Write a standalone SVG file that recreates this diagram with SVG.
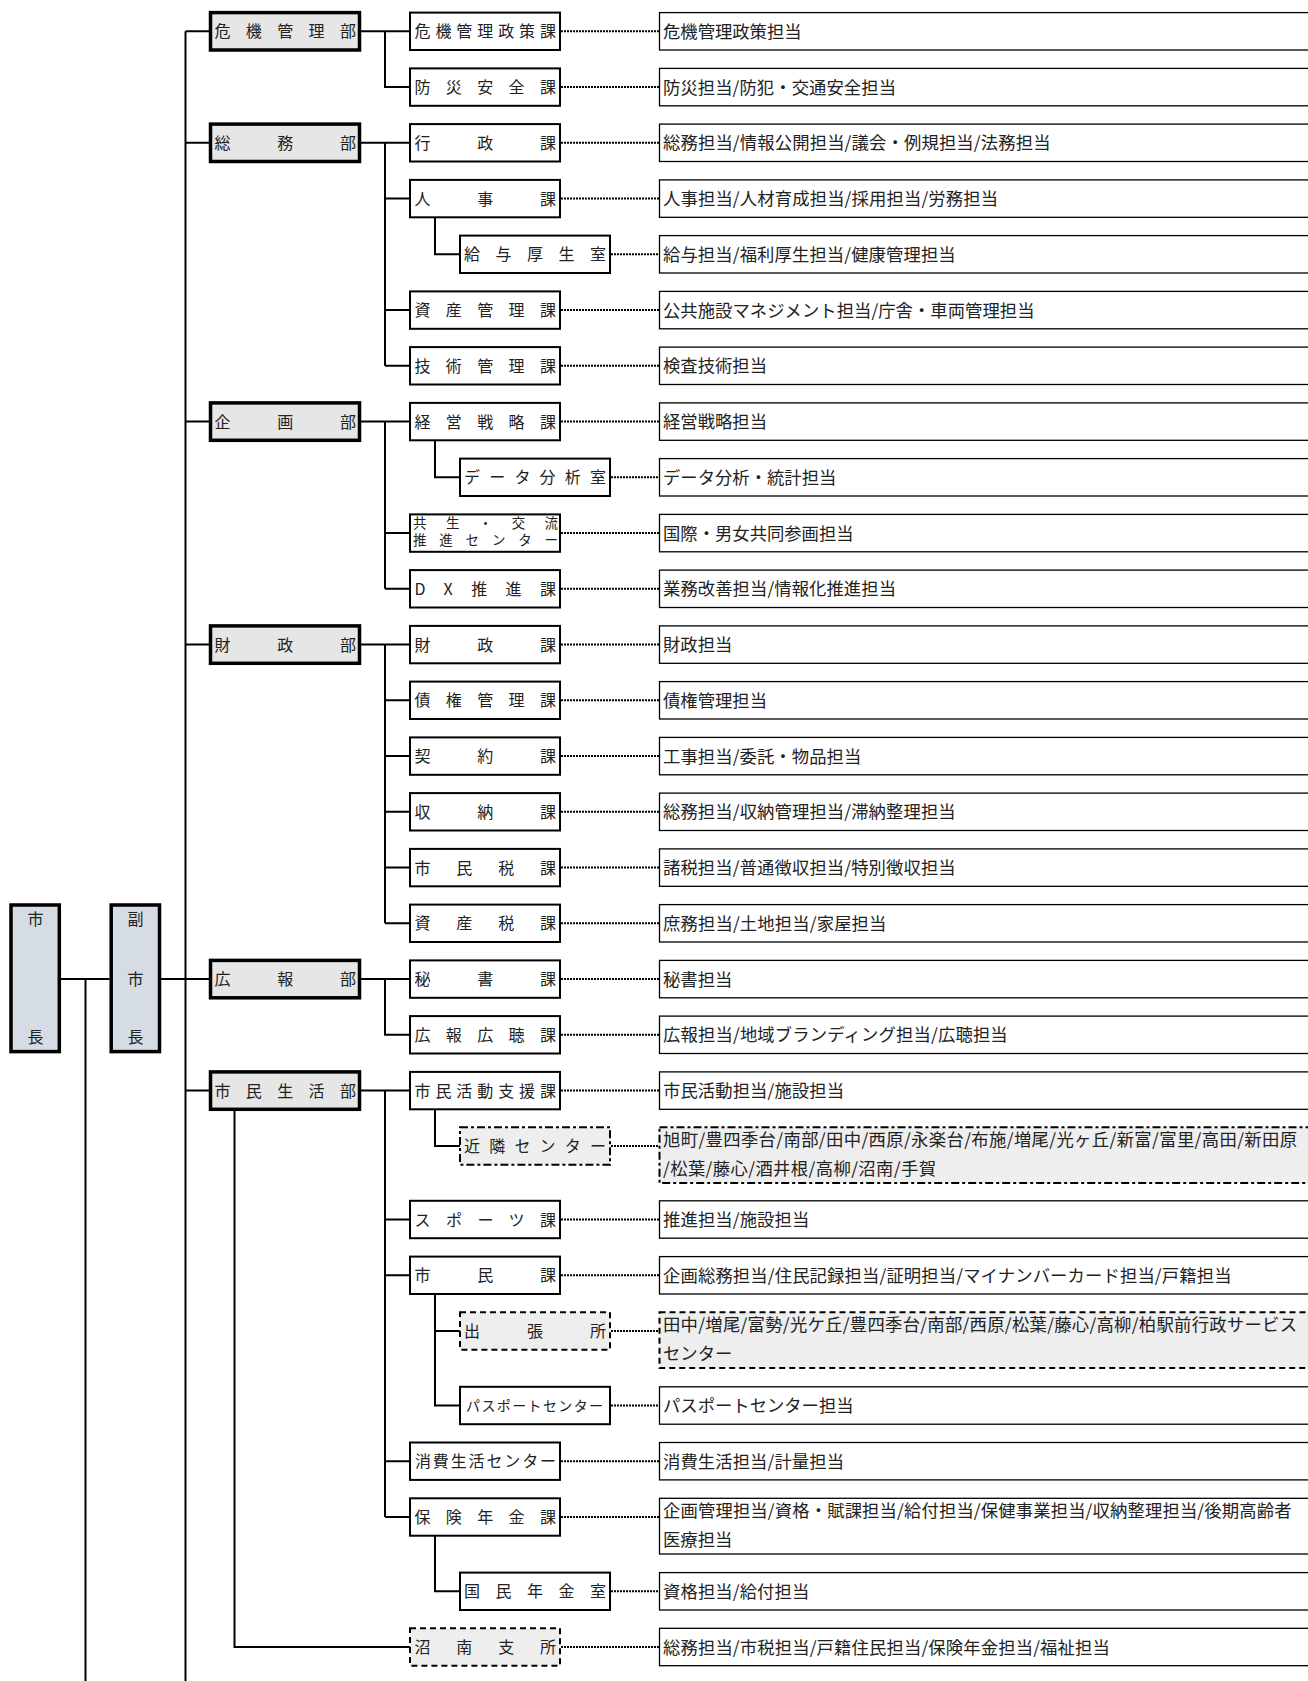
<svg xmlns="http://www.w3.org/2000/svg" width="1308" height="1681" viewBox="0 0 1308 1681">
<style>
.ln{fill:none;stroke:#000;stroke-width:2}
.dt{fill:none;stroke:#000;stroke-width:2;stroke-dasharray:2 1}
.top{fill:#d6dce4;stroke:#000;stroke-width:3.5}
.dept{fill:#e6e6e6;stroke:#000;stroke-width:3.5}
.sec{fill:#fff;stroke:#000;stroke-width:2}
.dash{fill:#eee;stroke:#000;stroke-width:2;stroke-dasharray:6 4}
.dashdot{fill:#eee;stroke:#000;stroke-width:2;stroke-dasharray:8 3 3 3}
.desc{fill:#fff;stroke:#000;stroke-width:1.3}
text{font-family:"Noto Sans CJK JP","Noto Sans CJK SC",sans-serif;fill:#222}
.s{font-size:16px}
.sm{font-size:13.5px}
.ps{font-size:14px}
.r{font-size:17.33px}
.c{text-anchor:middle}
</style>
<rect width="1308" height="1681" fill="#fff"/>
<g id="connectors">
<path class="ln" d="M61 979.1H109.5M85.5 979.1V1681M161 979.1H185.5M185.5 31.3V1681"/>
<path class="ln" d="M185.5 31.3H209M185.5 142.8H209M185.5 421.6H209M185.5 644.6H209M185.5 979.1H209M185.5 1090.6H209"/>
<path class="ln" d="M361 31.3H410M385 31.3V87.1H410"/>
<path class="ln" d="M361 142.8H410M385 142.8V365.8M385 198.6H410M385 310.1H410M385 365.8H410M435 217.3V254.3H460"/>
<path class="ln" d="M361 421.6H410M385 421.6V588.8M385 533.1H410M385 588.8H410M435 440.3V477.3H460"/>
<path class="ln" d="M361 644.6H410M385 644.6V923.3M385 700.3H410M385 756.1H410M385 811.8H410M385 867.6H410M385 923.3H410"/>
<path class="ln" d="M361 979.1H410M385 979.1V1034.8H410"/>
<path class="ln" d="M361 1090.6H410M385 1090.6V1517M385 1219.5H410M385 1275.3H410M385 1461.2H410M385 1517H410M435 1109.3V1146H460M435 1294V1405.5H460M435 1331H460M435 1535.7V1591.3H460M234.5 1109.3V1647H410"/>
<path class="dt" d="M561 31.3H659M561 87.1H659M561 142.8H659M561 198.6H659M611 254.3H659M561 310.1H659M561 365.8H659M561 421.6H659M611 477.3H659M561 533.1H659M561 588.8H659M561 644.6H659M561 700.3H659M561 756.1H659M561 811.8H659M561 867.6H659M561 923.3H659M561 979.1H659M561 1034.8H659M561 1090.6H659M611 1146H659M561 1219.5H659M561 1275.3H659M611 1331H659M611 1405.5H659M561 1461.2H659M561 1517H659M611 1591.3H659M561 1647H659"/>
</g>
<g id="mayor"><rect class="top" x="11" y="905" width="48.3" height="146.6"/><text class="s c" x="35.5" y="925.3">市</text><text class="s c" x="35.5" y="1042.7">長</text></g>
<g id="vice-mayor"><rect class="top" x="111.2" y="905" width="48.3" height="146.6"/><text class="s c" x="135.5" y="925.3">副</text><text class="s c" x="135.5" y="985.1">市</text><text class="s c" x="135.5" y="1042.7">長</text></g>

<g id="dept-kiki"><rect class="dept" x="210.5" y="12.6" width="149" height="37.4"/><text class="s" x="214.5" y="37.3" textLength="141.5" lengthAdjust="spacing">危機管理部</text></g>
<g id="dept-somu"><rect class="dept" x="210.5" y="124.1" width="149" height="37.4"/><text class="s" x="214.5" y="148.8" textLength="141.5" lengthAdjust="spacing">総務部</text></g>
<g id="dept-kikaku"><rect class="dept" x="210.5" y="402.9" width="149" height="37.4"/><text class="s" x="214.5" y="427.6" textLength="141.5" lengthAdjust="spacing">企画部</text></g>
<g id="dept-zaisei"><rect class="dept" x="210.5" y="625.9" width="149" height="37.4"/><text class="s" x="214.5" y="650.6" textLength="141.5" lengthAdjust="spacing">財政部</text></g>
<g id="dept-koho"><rect class="dept" x="210.5" y="960.4" width="149" height="37.4"/><text class="s" x="214.5" y="985.1" textLength="141.5" lengthAdjust="spacing">広報部</text></g>
<g id="dept-shimin"><rect class="dept" x="210.5" y="1071.9" width="149" height="37.4"/><text class="s" x="214.5" y="1096.6" textLength="141.5" lengthAdjust="spacing">市民生活部</text></g>

<g id="r0"><rect class="sec" x="410" y="12.6" width="150" height="37.4"/><text class="s" x="414.5" y="37.3" textLength="141.5" lengthAdjust="spacing">危機管理政策課</text><rect class="desc" x="659.5" y="12.6" width="700" height="37.4"/><text class="r" x="663" y="37.9" textLength="138.6" lengthAdjust="spacing">危機管理政策担当</text></g>
<g id="r1"><rect class="sec" x="410" y="68.4" width="150" height="37.4"/><text class="s" x="414.5" y="93.1" textLength="141.5" lengthAdjust="spacing">防災安全課</text><rect class="desc" x="659.5" y="68.4" width="700" height="37.4"/><text class="r" x="663" y="93.7" textLength="233" lengthAdjust="spacing">防災担当/防犯・交通安全担当</text></g>
<g id="r2"><rect class="sec" x="410" y="124.1" width="150" height="37.4"/><text class="s" x="414.5" y="148.8" textLength="141.5" lengthAdjust="spacing">行政課</text><rect class="desc" x="659.5" y="124.1" width="700" height="37.4"/><text class="r" x="663" y="149.4" textLength="387.5" lengthAdjust="spacing">総務担当/情報公開担当/議会・例規担当/法務担当</text></g>
<g id="r3"><rect class="sec" x="410" y="179.9" width="150" height="37.4"/><text class="s" x="414.5" y="204.6" textLength="141.5" lengthAdjust="spacing">人事課</text><rect class="desc" x="659.5" y="179.9" width="700" height="37.4"/><text class="r" x="663" y="205.2" textLength="335.1" lengthAdjust="spacing">人事担当/人材育成担当/採用担当/労務担当</text></g>
<g id="r4"><rect class="sec" x="460" y="235.6" width="150" height="37.4"/><text class="s" x="464" y="260.3" textLength="142" lengthAdjust="spacing">給与厚生室</text><rect class="desc" x="659.5" y="235.6" width="700" height="37.4"/><text class="r" x="663" y="260.9" textLength="292.7" lengthAdjust="spacing">給与担当/福利厚生担当/健康管理担当</text></g>
<g id="r5"><rect class="sec" x="410" y="291.4" width="150" height="37.4"/><text class="s" x="414.5" y="316.1" textLength="141.5" lengthAdjust="spacing">資産管理課</text><rect class="desc" x="659.5" y="291.4" width="700" height="37.4"/><text class="r" x="663" y="316.7" textLength="371.5" lengthAdjust="spacing">公共施設マネジメント担当/庁舎・車両管理担当</text></g>
<g id="r6"><rect class="sec" x="410" y="347.1" width="150" height="37.4"/><text class="s" x="414.5" y="371.8" textLength="141.5" lengthAdjust="spacing">技術管理課</text><rect class="desc" x="659.5" y="347.1" width="700" height="37.4"/><text class="r" x="663" y="372.4" textLength="104" lengthAdjust="spacing">検査技術担当</text></g>
<g id="r7"><rect class="sec" x="410" y="402.9" width="150" height="37.4"/><text class="s" x="414.5" y="427.6" textLength="141.5" lengthAdjust="spacing">経営戦略課</text><rect class="desc" x="659.5" y="402.9" width="700" height="37.4"/><text class="r" x="663" y="428.2" textLength="104" lengthAdjust="spacing">経営戦略担当</text></g>
<g id="r8"><rect class="sec" x="460" y="458.6" width="150" height="37.4"/><text class="s" x="464" y="483.3" textLength="142" lengthAdjust="spacing">データ分析室</text><rect class="desc" x="659.5" y="458.6" width="700" height="37.4"/><text class="r" x="663" y="483.9" textLength="173.3" lengthAdjust="spacing">データ分析・統計担当</text></g>
<g id="r9"><rect class="sec" x="410" y="514.4" width="150" height="37.4"/><text class="sm" x="413" y="527.5" textLength="145" lengthAdjust="spacing">共生・交流</text><text class="sm" x="413" y="544.5" textLength="145" lengthAdjust="spacing">推進センター</text><rect class="desc" x="659.5" y="514.4" width="700" height="37.4"/><text class="r" x="663" y="539.7" textLength="190.6" lengthAdjust="spacing">国際・男女共同参画担当</text></g>
<g id="r10"><rect class="sec" x="410" y="570.1" width="150" height="37.4"/><text class="s" x="414.5" y="594.8" textLength="141.5" lengthAdjust="spacing">DX推進課</text><rect class="desc" x="659.5" y="570.1" width="700" height="37.4"/><text class="r" x="663" y="595.4" textLength="233" lengthAdjust="spacing">業務改善担当/情報化推進担当</text></g>
<g id="r11"><rect class="sec" x="410" y="625.9" width="150" height="37.4"/><text class="s" x="414.5" y="650.6" textLength="141.5" lengthAdjust="spacing">財政課</text><rect class="desc" x="659.5" y="625.9" width="700" height="37.4"/><text class="r" x="663" y="651.2" textLength="69.3" lengthAdjust="spacing">財政担当</text></g>
<g id="r12"><rect class="sec" x="410" y="681.6" width="150" height="37.4"/><text class="s" x="414.5" y="706.3" textLength="141.5" lengthAdjust="spacing">債権管理課</text><rect class="desc" x="659.5" y="681.6" width="700" height="37.4"/><text class="r" x="663" y="706.9" textLength="104" lengthAdjust="spacing">債権管理担当</text></g>
<g id="r13"><rect class="sec" x="410" y="737.4" width="150" height="37.4"/><text class="s" x="414.5" y="762.1" textLength="141.5" lengthAdjust="spacing">契約課</text><rect class="desc" x="659.5" y="737.4" width="700" height="37.4"/><text class="r" x="663" y="762.7" textLength="198.3" lengthAdjust="spacing">工事担当/委託・物品担当</text></g>
<g id="r14"><rect class="sec" x="410" y="793.1" width="150" height="37.4"/><text class="s" x="414.5" y="817.8" textLength="141.5" lengthAdjust="spacing">収納課</text><rect class="desc" x="659.5" y="793.1" width="700" height="37.4"/><text class="r" x="663" y="818.4" textLength="292.7" lengthAdjust="spacing">総務担当/収納管理担当/滞納整理担当</text></g>
<g id="r15"><rect class="sec" x="410" y="848.9" width="150" height="37.4"/><text class="s" x="414.5" y="873.6" textLength="141.5" lengthAdjust="spacing">市民税課</text><rect class="desc" x="659.5" y="848.9" width="700" height="37.4"/><text class="r" x="663" y="874.2" textLength="292.7" lengthAdjust="spacing">諸税担当/普通徴収担当/特別徴収担当</text></g>
<g id="r16"><rect class="sec" x="410" y="904.6" width="150" height="37.4"/><text class="s" x="414.5" y="929.3" textLength="141.5" lengthAdjust="spacing">資産税課</text><rect class="desc" x="659.5" y="904.6" width="700" height="37.4"/><text class="r" x="663" y="929.9" textLength="223.4" lengthAdjust="spacing">庶務担当/土地担当/家屋担当</text></g>
<g id="r17"><rect class="sec" x="410" y="960.4" width="150" height="37.4"/><text class="s" x="414.5" y="985.1" textLength="141.5" lengthAdjust="spacing">秘書課</text><rect class="desc" x="659.5" y="960.4" width="700" height="37.4"/><text class="r" x="663" y="985.7" textLength="69.3" lengthAdjust="spacing">秘書担当</text></g>
<g id="r18"><rect class="sec" x="410" y="1016.1" width="150" height="37.4"/><text class="s" x="414.5" y="1040.8" textLength="141.5" lengthAdjust="spacing">広報広聴課</text><rect class="desc" x="659.5" y="1016.1" width="700" height="37.4"/><text class="r" x="663" y="1041.4" textLength="344.7" lengthAdjust="spacing">広報担当/地域ブランディング担当/広聴担当</text></g>
<g id="r19"><rect class="sec" x="410" y="1071.9" width="150" height="37.4"/><text class="s" x="414.5" y="1096.6" textLength="141.5" lengthAdjust="spacing">市民活動支援課</text><rect class="desc" x="659.5" y="1071.9" width="700" height="37.4"/><text class="r" x="663" y="1097.2" textLength="181" lengthAdjust="spacing">市民活動担当/施設担当</text></g>
<g id="r20"><rect class="dashdot" x="460" y="1127.3" width="150" height="37.4"/><text class="s" x="464" y="1152" textLength="142" lengthAdjust="spacing">近隣センター</text><rect class="dashdot" x="659.5" y="1127.3" width="700" height="55.7"/><text class="r" x="663" y="1145.9" textLength="634" lengthAdjust="spacing">旭町/豊四季台/南部/田中/西原/永楽台/布施/増尾/光ヶ丘/新富/富里/高田/新田原</text><text class="r" x="663" y="1174.9" textLength="273" lengthAdjust="spacing">/松葉/藤心/酒井根/高柳/沼南/手賀</text></g>
<g id="r21"><rect class="sec" x="410" y="1200.8" width="150" height="37.4"/><text class="s" x="414.5" y="1225.5" textLength="141.5" lengthAdjust="spacing">スポーツ課</text><rect class="desc" x="659.5" y="1200.8" width="700" height="37.4"/><text class="r" x="663" y="1226.1" textLength="146.3" lengthAdjust="spacing">推進担当/施設担当</text></g>
<g id="r22"><rect class="sec" x="410" y="1256.6" width="150" height="37.4"/><text class="s" x="414.5" y="1281.3" textLength="141.5" lengthAdjust="spacing">市民課</text><rect class="desc" x="659.5" y="1256.6" width="700" height="37.4"/><text class="r" x="663" y="1281.9" textLength="568.5" lengthAdjust="spacing">企画総務担当/住民記録担当/証明担当/マイナンバーカード担当/戸籍担当</text></g>
<g id="r23"><rect class="dash" x="460" y="1312.3" width="150" height="37.4"/><text class="s" x="464" y="1337" textLength="142" lengthAdjust="spacing">出張所</text><rect class="dash" x="659.5" y="1312.3" width="700" height="55.7"/><text class="r" x="663" y="1330.9" textLength="634" lengthAdjust="spacing">田中/増尾/富勢/光ケ丘/豊四季台/南部/西原/松葉/藤心/高柳/柏駅前行政サービス</text><text class="r" x="663" y="1359.9" textLength="69.3" lengthAdjust="spacing">センター</text></g>
<g id="r24"><rect class="sec" x="460" y="1386.8" width="150" height="37.4"/><text class="ps" x="466" y="1410.8" textLength="137" lengthAdjust="spacing">パスポートセンター</text><rect class="desc" x="659.5" y="1386.8" width="700" height="37.4"/><text class="r" x="663" y="1412.1" textLength="190.6" lengthAdjust="spacing">パスポートセンター担当</text></g>
<g id="r25"><rect class="sec" x="410" y="1442.5" width="150" height="37.4"/><text class="s" x="415" y="1467.2" textLength="141" lengthAdjust="spacing">消費生活センター</text><rect class="desc" x="659.5" y="1442.5" width="700" height="37.4"/><text class="r" x="663" y="1467.8" textLength="181" lengthAdjust="spacing">消費生活担当/計量担当</text></g>
<g id="r26"><rect class="sec" x="410" y="1498.3" width="150" height="37.4"/><text class="s" x="414.5" y="1523" textLength="141.5" lengthAdjust="spacing">保険年金課</text><rect class="desc" x="659.5" y="1498.3" width="700" height="55.7"/><text class="r" x="663" y="1516.9" textLength="628.5" lengthAdjust="spacing">企画管理担当/資格・賦課担当/給付担当/保健事業担当/収納整理担当/後期高齢者</text><text class="r" x="663" y="1545.9" textLength="69.3" lengthAdjust="spacing">医療担当</text></g>
<g id="r27"><rect class="sec" x="460" y="1572.6" width="150" height="37.4"/><text class="s" x="464" y="1597.3" textLength="142" lengthAdjust="spacing">国民年金室</text><rect class="desc" x="659.5" y="1572.6" width="700" height="37.4"/><text class="r" x="663" y="1597.9" textLength="146.3" lengthAdjust="spacing">資格担当/給付担当</text></g>
<g id="r28"><rect class="dash" x="410" y="1628.3" width="150" height="37.4"/><text class="s" x="414.5" y="1653" textLength="141.5" lengthAdjust="spacing">沼南支所</text><rect class="desc" x="659.5" y="1628.3" width="700" height="37.4"/><text class="r" x="663" y="1653.6" textLength="446.8" lengthAdjust="spacing">総務担当/市税担当/戸籍住民担当/保険年金担当/福祉担当</text></g>
</svg>
